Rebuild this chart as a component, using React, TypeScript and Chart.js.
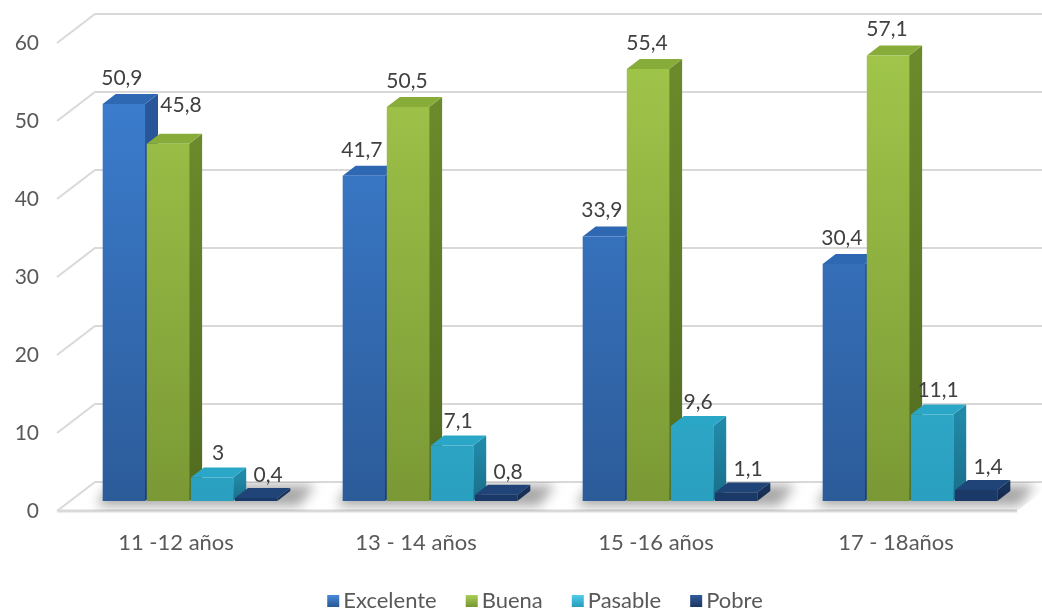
import { useEffect, useRef } from 'react';
import { Chart, registerables } from 'chart.js';

Chart.register(...registerables);

// ---- data ----
const categories = ['11 -12 años', '13 - 14 años', '15 -16 años', '17 - 18años'];
const seriesNames = ['Excelente', 'Buena', 'Pasable', 'Pobre'];
const excelente = [50.9, 41.7, 33.9, 30.4];
const buena = [45.8, 50.5, 55.4, 57.1];
const pasable = [3, 7.1, 9.6, 11.1];
const pobre = [0.4, 0.8, 1.1, 1.4];
const yTickValues = [0, 10, 20, 30, 40, 50, 60];

// ---- styling ----
const FONT = 'Lato';
const AXIS_COLOR = '#595959';
const LABEL_COLOR = '#404040';
const GRID_COLOR = '#d9d9d9';

// 3D projection offsets (relative to the bar front plane)
const FRONT_DX = -13;
const FRONT_DY = 10;
const BACK_DX = 25;
const BACK_DY = -19;
const BAR_DX = 13;
const BAR_DY = -10;

type Palette = { front: [string, string]; side: [string, string]; top: string; legend: [string, string] };
const palettes: Palette[] = [
  { front: ['#3e82d6', '#2c5b99'], side: ['#29579a', '#1d3f70'], top: '#2f68b2', legend: ['#4a8ee0', '#2c5b99'] },
  { front: ['#a2c74b', '#7a9935'], side: ['#6a8a2b', '#526b20'], top: '#88ac3a', legend: ['#b0d45a', '#7a9935'] },
  { front: ['#3fc4e4', '#2a9fbf'], side: ['#2189a8', '#1a6e88'], top: '#2aa6c6', legend: ['#55d0ee', '#2a9fbf'] },
  { front: ['#264c86', '#1b3966'], side: ['#183159', '#122647'], top: '#214478', legend: ['#33609e', '#1b3966'] },
];
const seriesValues = [excelente, buena, pasable, pobre];

// value-label placement per series (x shift, gap above the bar front)
const labelShiftX = [-2, -1, 6, 12];
const labelGap = [26, 26, 24, 23];
// the "Buena" label of the first group sits higher and to the right, clear of its neighbour
const labelNudge = (d: number, i: number): [number, number] => (d === 1 && i === 0 ? [14, -13] : [0, 0]);

const fmt = (v: number) => String(v).replace('.', ',');

const threeDPlugin = {
  id: 'threeD',
  beforeDatasetsDraw(chart: any) {
    const { ctx, chartArea } = chart;
    const y = chart.scales.y;
    const left = chartArea.left;
    const right = chartArea.right;
    const base = y.getPixelForValue(0);
    ctx.save();

    // back wall + left wall gridlines
    ctx.strokeStyle = GRID_COLOR;
    ctx.lineWidth = 2;
    for (const v of yTickValues) {
      if (v === 0) continue;
      const py = y.getPixelForValue(v);
      ctx.beginPath();
      ctx.moveTo(left + FRONT_DX, py + FRONT_DY);
      ctx.lineTo(left + BACK_DX, py + BACK_DY);
      ctx.lineTo(chart.width, py + BACK_DY);
      ctx.stroke();
    }

    // floor
    const floor: [number, number][] = [
      [left + FRONT_DX, base + FRONT_DY],
      [right + FRONT_DX, base + FRONT_DY],
      [right + BACK_DX, base + BACK_DY],
      [left + BACK_DX, base + BACK_DY],
    ];
    const floorPath = () => {
      ctx.beginPath();
      floor.forEach(([px, py], i) => (i ? ctx.lineTo(px, py) : ctx.moveTo(px, py)));
      ctx.closePath();
    };
    floorPath();
    ctx.fillStyle = '#ffffff';
    ctx.fill();
    ctx.lineWidth = 2;
    ctx.strokeStyle = GRID_COLOR;
    ctx.beginPath();
    ctx.moveTo(floor[0][0], floor[0][1]);
    ctx.lineTo(floor[3][0], floor[3][1]);
    ctx.lineTo(chart.width, floor[3][1]);
    ctx.stroke();
    ctx.lineWidth = 3;
    ctx.beginPath();
    ctx.moveTo(floor[0][0], floor[0][1]);
    ctx.lineTo(floor[1][0], floor[1][1]);
    ctx.stroke();

    // soft shadows on the floor
    ctx.save();
    floorPath();
    ctx.clip();
    const metas = chart.data.datasets.map((_: any, d: number) => chart.getDatasetMeta(d));
    ctx.filter = 'blur(6px)';
    ctx.fillStyle = 'rgba(0,0,0,0.34)';
    for (let i = 0; i < categories.length; i++) {
      const first = metas[0].data[i];
      const last = metas[metas.length - 1].data[i];
      const x1 = first.x - first.width / 2;
      const x2 = last.x + last.width / 2;
      ctx.beginPath();
      ctx.moveTo(x1 - 6, base + 5);
      ctx.lineTo(x2 + 22, base + 5);
      ctx.lineTo(x2 + 38, base - 16);
      ctx.lineTo(x1 + 6, base - 16);
      ctx.closePath();
      ctx.fill();
    }
    ctx.filter = 'none';
    ctx.restore();

    // side and top faces, left to right
    for (let i = 0; i < categories.length; i++) {
      metas.forEach((meta: any, d: number) => {
        const el = meta.data[i];
        const pal = palettes[d];
        const x1 = el.x - el.width / 2;
        const x2 = el.x + el.width / 2;
        const top = el.y;
        const bottom = el.base;
        const g = ctx.createLinearGradient(0, top, 0, bottom);
        g.addColorStop(0, pal.side[0]);
        g.addColorStop(1, pal.side[1]);
        ctx.fillStyle = g;
        ctx.beginPath();
        ctx.moveTo(x2, top);
        ctx.lineTo(x2 + BAR_DX, top + BAR_DY);
        ctx.lineTo(x2 + BAR_DX, bottom + BAR_DY);
        ctx.lineTo(x2, bottom);
        ctx.closePath();
        ctx.fill();
        ctx.fillStyle = pal.top;
        ctx.beginPath();
        ctx.moveTo(x1, top);
        ctx.lineTo(x2, top);
        ctx.lineTo(x2 + BAR_DX, top + BAR_DY);
        ctx.lineTo(x1 + BAR_DX, top + BAR_DY);
        ctx.closePath();
        ctx.fill();
      });
    }
    ctx.restore();
  },
  afterDatasetsDraw(chart: any) {
    const { ctx } = chart;
    ctx.save();
    ctx.font = `21px ${FONT}`;
    ctx.fillStyle = LABEL_COLOR;
    ctx.textAlign = 'center';
    ctx.textBaseline = 'middle';
    chart.data.datasets.forEach((ds: any, d: number) => {
      const meta = chart.getDatasetMeta(d);
      meta.data.forEach((el: any, i: number) => {
        const [nx, ny] = labelNudge(d, i);
        ctx.fillText(fmt(ds.data[i]), el.x + labelShiftX[d] + nx, el.y - labelGap[d] + ny);
      });
    });
    ctx.restore();
  },
  afterDraw(chart: any) {
    // legend
    const { ctx } = chart;
    ctx.save();
    ctx.font = `22px ${FONT}`;
    ctx.textBaseline = 'middle';
    ctx.textAlign = 'left';
    const box = 12;
    const gap = 4;
    const spacing = 29;
    const widths = seriesNames.map((n) => box + gap + ctx.measureText(n).width);
    const total = widths.reduce((a, b) => a + b, 0) + spacing * (seriesNames.length - 1);
    let x = 545 - total / 2;
    const cy = 600;
    seriesNames.forEach((name, d) => {
      const pal = palettes[d];
      const g = ctx.createLinearGradient(0, cy - box / 2, 0, cy + box / 2);
      g.addColorStop(0, pal.legend[0]);
      g.addColorStop(1, pal.legend[1]);
      ctx.fillStyle = g;
      ctx.fillRect(x, cy - box / 2 + 1, box, box);
      ctx.fillStyle = AXIS_COLOR;
      ctx.fillText(name, x + box + gap, cy + 1);
      x += widths[d] + spacing;
    });
    ctx.restore();
  },
};

export default function App() {
  const ref = useRef<HTMLCanvasElement>(null);

  useEffect(() => {
    if (!ref.current) return;
    const frontFill = (d: number) => (c: any) => {
      const area = c.chart.chartArea;
      if (!area) return palettes[d].front[0];
      const g = c.chart.ctx.createLinearGradient(0, area.top, 0, area.bottom);
      g.addColorStop(0, palettes[d].front[0]);
      g.addColorStop(1, palettes[d].front[1]);
      return g;
    };
    const chart = new Chart(ref.current, {
      type: 'bar',
      data: {
        labels: categories,
        datasets: seriesNames.map((name, d) => ({
          label: name,
          data: seriesValues[d],
          backgroundColor: frontFill(d),
          borderWidth: 0,
          categoryPercentage: 0.735,
          barPercentage: 0.96,
        })),
      },
      options: {
        responsive: false,
        animation: false,
        layout: { padding: { top: 33, right: 12, left: 0, bottom: 0 } },
        plugins: { legend: { display: false }, tooltip: { enabled: false } },
        scales: {
          x: {
            grid: { display: false, drawTicks: false },
            border: { display: false },
            ticks: {
              font: { family: FONT, size: 22 },
              color: AXIS_COLOR,
              padding: 29,
              labelOffset: -14,
              maxRotation: 0,
              autoSkip: false,
            },
            afterFit: (s: any) => {
              s.height = 110;
              s.paddingLeft = 0;
              s.paddingRight = 0;
            },
          },
          y: {
            min: 0,
            max: 60,
            grid: { display: false, drawTicks: false },
            border: { display: false },
            ticks: {
              stepSize: 10,
              font: { family: FONT, size: 21 },
              color: AXIS_COLOR,
              padding: 31,
              labelOffset: 10,
            },
            afterFit: (s: any) => {
              s.width = 70;
              s.paddingTop = 0;
              s.paddingBottom = 0;
            },
          },
        },
      },
      plugins: [threeDPlugin],
    });
    return () => chart.destroy();
  }, []);

  return (
    <div style={{ position: 'fixed', left: 0, top: 0, width: 1042, height: 611, background: '#ffffff' }}>
      <canvas ref={ref} width={1042} height={611} style={{ display: 'block' }} />
    </div>
  );
}
